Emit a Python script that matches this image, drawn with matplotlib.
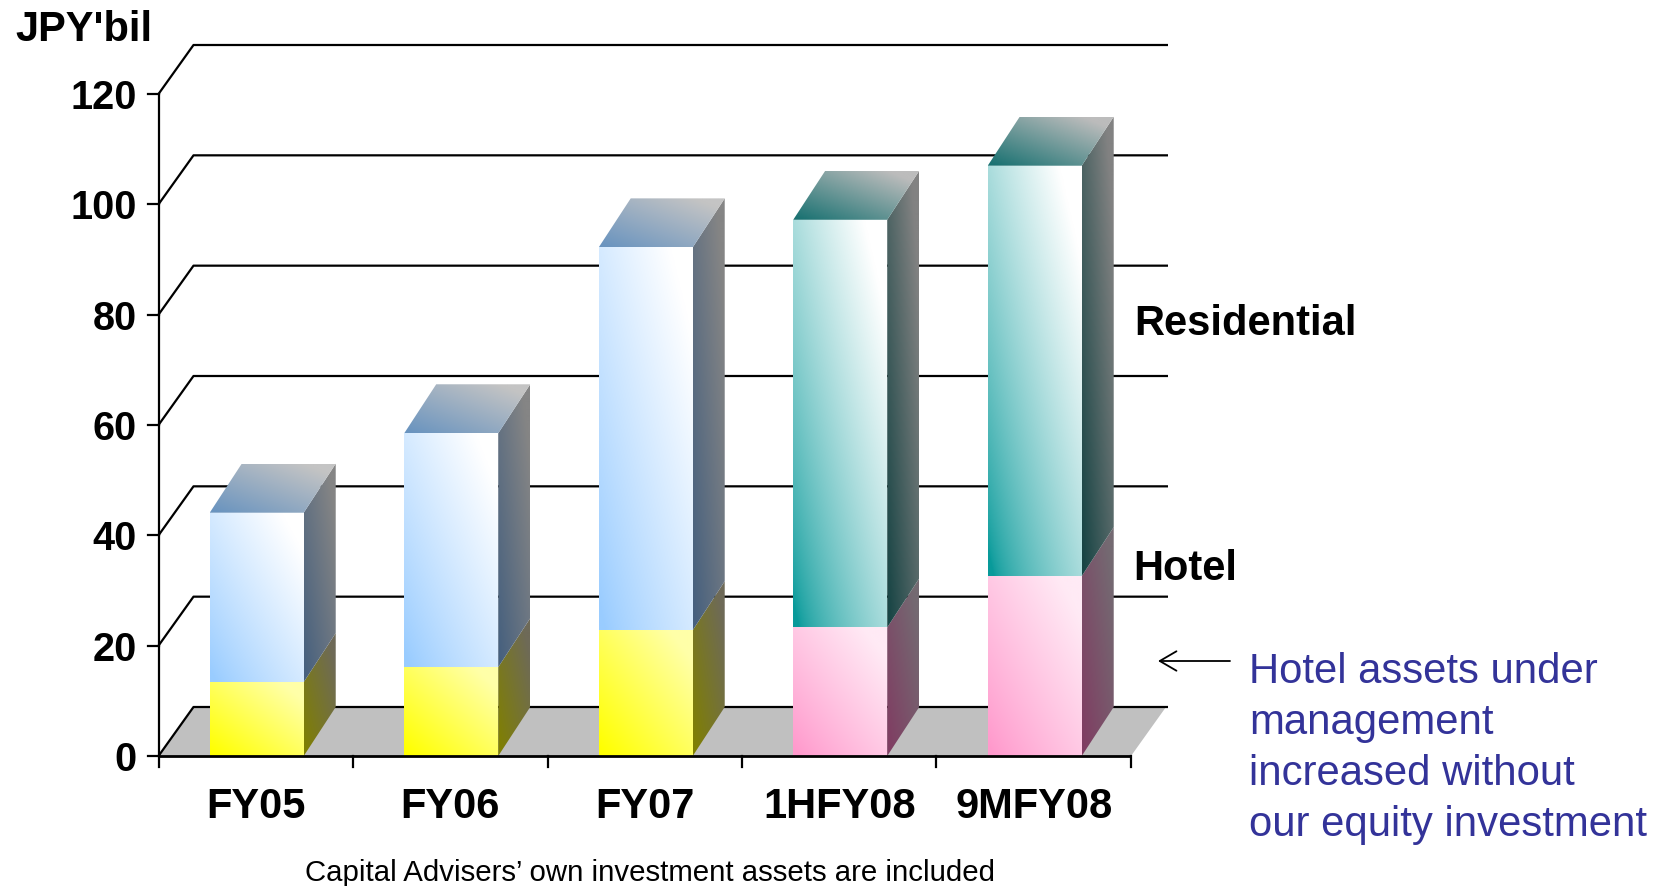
import numpy as np
import matplotlib
matplotlib.use('Agg')
import matplotlib.pyplot as plt
from matplotlib.patches import Polygon
from matplotlib.colors import to_rgb

# ---------------- data ----------------
categories = ['FY05', 'FY06', 'FY07', '1HFY08', '9MFY08']
hotel = [13.4, 16.1, 22.8, 23.3, 32.6]
residential = [30.7, 42.4, 69.4, 73.9, 74.4]
y_ticks = [0, 20, 40, 60, 80, 100, 120]
y_unit = "JPY'bil"
series_labels = ['Residential', 'Hotel']
note_lines = ['Hotel assets under', 'management', 'increased without',
              'our equity investment']
footnote = 'Capital Advisers\u2019 own investment assets are included'

# ---------------- styles ----------------
plt.rcParams['font.family'] = ['Liberation Sans', 'DejaVu Sans']
palette_of_bar = ['classic', 'classic', 'classic', 'new', 'new']
# (start colour at lower-left, end colour at upper-right, gamma)
PAL = {
    'classic': dict(res_front=('#99ccff', '#ffffff', 0.9), res_top=('#6a94bf', '#c4c4c4', 1.0),
                    res_side=('#46607e', '#858585', 1.0), hot_front=('#ffff00', '#ffffa8', 1.0),
                    hot_side=('#808000', '#6e6a58', 1.0)),
    'new': dict(res_front=('#089a9a', '#ffffff', 0.72), res_top=('#1a7272', '#bcbcbc', 1.0),
                res_side=('#174444', '#828282', 1.0), hot_front=('#ff99cc', '#ffeaf5', 0.9),
                hot_side=('#803c62', '#746a72', 1.0)),
}

W, H = 1674, 887
fig = plt.figure(figsize=(W / 100, H / 100), dpi=100)
ax = fig.add_axes([0, 0, 1, 1])
ax.axis('off')

X_LEFT_PX = 158.5
CAT_PX = 194.5
Y0_PX = 757.0
UNIT_PX = 662.0 / 120.0


def px2x(p):
    return (p - X_LEFT_PX) / CAT_PX - 0.5


def px2y(p):
    return (Y0_PX - p) / UNIT_PX


WDX, WDY = 35 / CAT_PX, 49 / UNIT_PX
BDX, BDY = 32 / CAT_PX, 49 / UNIT_PX
BW = 94 / CAT_PX
GRID_END = px2x(1168)
LW = 1.6


def grad_face(verts, spec, z):
    c0, c1, gamma = spec
    verts = np.array(verts, dtype=float)
    xmin, ymin = verts.min(0)
    xmax, ymax = verts.max(0)
    n = 128
    U, V = np.meshgrid(np.linspace(0, 1, n), np.linspace(0, 1, n))
    t = np.clip(((U + V) / 2 - 0.03) / 0.85, 0, 1) ** gamma
    c0 = np.array(to_rgb(c0))
    c1 = np.array(to_rgb(c1))
    img = c0[None, None, :] * (1 - t[..., None]) + c1[None, None, :] * t[..., None]
    patch = Polygon(verts, closed=True, facecolor='none', edgecolor='none',
                    transform=ax.transData)
    ax.add_patch(patch)
    im = ax.imshow(img, origin='lower', extent=(xmin, xmax, ymin, ymax),
                   aspect='auto', interpolation='bilinear', zorder=z)
    im.set_clip_path(patch)


# floor
ax.add_patch(Polygon([(-0.5, 0), (4.5, 0), (4.5 + WDX, WDY), (-0.5 + WDX, WDY)],
                     closed=True, facecolor='#c0c0c0', edgecolor='none', zorder=1))

# gridlines on walls
for yv in y_ticks:
    ax.plot([-0.5, -0.5 + WDX, GRID_END], [yv, yv + WDY, yv + WDY],
            color='black', lw=LW, zorder=2, solid_capstyle='butt')
    ax.plot([-0.5 - 10.5 / CAT_PX, -0.5], [yv, yv], color='black', lw=LW, zorder=2)
    ax.text(px2x(137), yv - 14 / UNIT_PX, str(yv), ha='right', va='baseline',
            fontsize=28.5, fontweight='bold')
ax.plot([-0.5, -0.5], [0, max(y_ticks)], color='black', lw=LW, zorder=2)

# bars
for i, cat in enumerate(categories):
    pal = PAL[palette_of_bar[i]]
    l, r = i - BW / 2 + 0.005, i + BW / 2 + 0.005
    segs = [(0, hotel[i], 'hot'), (hotel[i], hotel[i] + residential[i], 'res')]
    for y0, y1, kind in segs:
        grad_face([(l, y0), (r, y0), (r, y1), (l, y1)], pal[kind + '_front'], 4)
        grad_face([(r, y0), (r + BDX, y0 + BDY), (r + BDX, y1 + BDY), (r, y1)],
                  pal[kind + '_side'], 4)
    top = hotel[i] + residential[i]
    grad_face([(l, top), (r, top), (r + BDX, top + BDY), (l + BDX, top + BDY)],
              pal['res_top'], 4)
    ax.text(i, px2y(818), cat, ha='center', va='baseline', fontsize=30,
            fontweight='bold')

# x axis
ax.plot([-0.5, len(categories) - 0.5], [0, 0], color='black', lw=2.0, zorder=10,
        solid_capstyle='butt')
for k in range(len(categories) + 1):
    ax.plot([k - 0.5, k - 0.5], [0, -11 / UNIT_PX], color='black', lw=LW, zorder=10)

# texts
ax.text(px2x(15), px2y(41), y_unit, ha='left', va='baseline', fontsize=30,
        fontweight='bold')
ax.text(px2x(1134), px2y(335), series_labels[0], ha='left', va='baseline',
        fontsize=30, fontweight='bold')
ax.text(px2x(1133), px2y(580), series_labels[1], ha='left', va='baseline',
        fontsize=30, fontweight='bold')

ax.annotate('', xy=(px2x(1158), px2y(662)), xytext=(px2x(1230), px2y(662)),
            arrowprops=dict(arrowstyle='->,head_length=0.6,head_width=0.35',
                            lw=1.3, color='black', mutation_scale=20,
                            shrinkA=0, shrinkB=0))
for k, line in enumerate(note_lines):
    ax.text(px2x(1249), px2y(683 + 51 * k), line, ha='left', va='baseline',
            fontsize=30.2, color='#333399')

ax.text(px2x(305), px2y(881), footnote, ha='left', va='baseline', fontsize=21.2,
        color='black')

ax.set_xlim(px2x(0), px2x(W))
ax.set_ylim(px2y(H), px2y(0))
fig.savefig('out.png', dpi=100)
